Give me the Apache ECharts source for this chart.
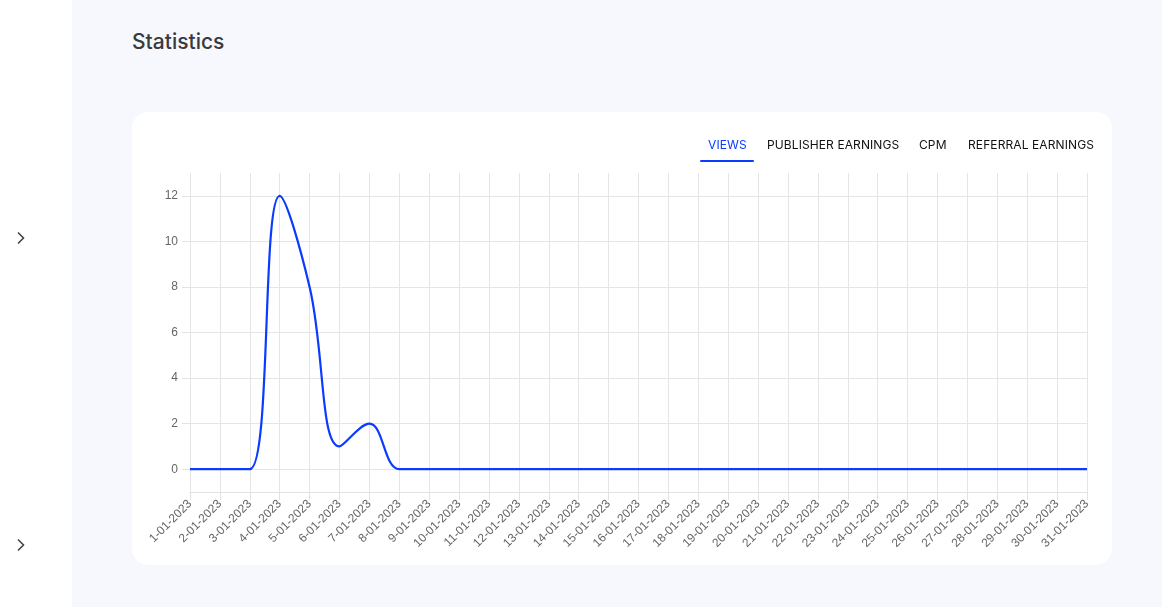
<!DOCTYPE html>
<html>
<head>
<meta charset="utf-8">
<script src="https://cdn.jsdelivr.net/npm/echarts@6/dist/echarts.min.js"></script>
<style>
  html,body{margin:0;padding:0;width:1162px;height:607px;overflow:hidden;background:#f7f7fe;font-family:Inter,Roboto,"Noto Sans",sans-serif;}
  #sidebar{position:absolute;left:0;top:0;width:72px;height:607px;background:#fff;overflow:hidden;}
  .chev{position:absolute;left:15px;width:12px;height:14px;}
  #frag{position:absolute;left:-8px;top:156px;font-size:13px;color:#333;}
  #title{position:absolute;left:132px;top:29px;font-size:21px;font-weight:500;color:#3a3a3a;}
  #card{position:absolute;left:132px;top:112px;width:980px;height:453px;background:#fff;border-radius:16px;}
  .tab{position:absolute;top:137px;font-size:12px;color:#111;letter-spacing:0.1px;white-space:nowrap;}
  #tab-views{color:#0a3bff;}
  #underline{position:absolute;left:700px;top:160px;width:54px;height:2px;background:#0a3bff;border-radius:1px;}
  #chart{position:absolute;left:0;top:0;width:1162px;height:607px;}
</style>
</head>
<body>
<div id="sidebar">
  <span id="frag">s</span>
  <svg class="chev" style="top:231px;" viewBox="0 0 12 14"><polyline points="3,1.5 8.5,7 3,12.5" fill="none" stroke="#444" stroke-width="1.6"/></svg>
  <svg class="chev" style="top:538px;" viewBox="0 0 12 14"><polyline points="3,1.5 8.5,7 3,12.5" fill="none" stroke="#444" stroke-width="1.6"/></svg>
</div>
<div id="title">Statistics</div>
<div id="card"></div>
<div id="chart"></div>
<div class="tab" id="tab-views" style="left:708px;">VIEWS</div>
<div class="tab" style="left:767px;">PUBLISHER EARNINGS</div>
<div class="tab" style="left:919px;">CPM</div>
<div class="tab" style="left:968px;">REFERRAL EARNINGS</div>
<div id="underline"></div>
<script>
const days = [];
for (let d = 1; d <= 31; d++) days.push(d + '-01-2023');
const views = [0,0,0,12,8,1,2,0,0,0,0,0,0,0,0,0,0,0,0,0,0,0,0,0,0,0,0,0,0,0,0];
const yTicks = [0,2,4,6,8,10,12];

const chart = echarts.init(document.getElementById('chart'), null, {renderer:'canvas'});
chart.setOption({
  animation:false,
  backgroundColor:'transparent',
  grid:{left:190,right:75,top:173,bottom:115,containLabel:false},
  xAxis:{
    type:'category',
    data:days,
    boundaryGap:false,
    axisLine:{show:true,onZero:false,lineStyle:{color:'#e2e2e2',width:1}},
    axisTick:{show:true,length:8,alignWithLabel:true,lineStyle:{color:'#e2e2e2'}},
    splitLine:{show:true,lineStyle:{color:'#e5e5e5',width:1}},
    axisLabel:{interval:0,rotate:45,fontSize:12,color:'#666',margin:10,fontFamily:'Arial, Liberation Sans, sans-serif'}
  },
  yAxis:{
    type:'value',
    min:-1,max:13,interval:1,
    axisLine:{show:false},
    axisTick:{show:true,length:8,customValues:yTicks,lineStyle:{color:'#e2e2e2'}},
    axisLabel:{customValues:yTicks,fontSize:12,color:'#666',margin:12,fontFamily:'Arial, Liberation Sans, sans-serif'},
    splitLine:{show:true,lineStyle:{color:'#e5e5e5',width:1}}
  },
  series:[{
    type:'line',
    data:views,
    smooth:0.4,
    symbol:'none',
    lineStyle:{color:'#0a3bff',width:2.2}
  }]
});
</script>
</body>
</html>
